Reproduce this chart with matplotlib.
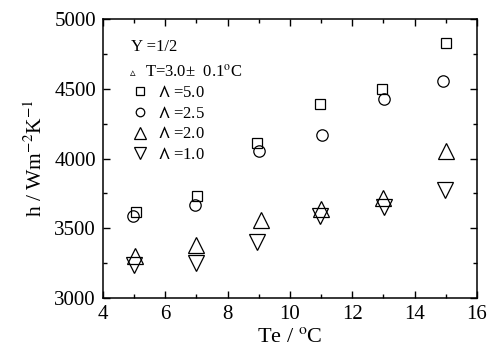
import matplotlib
matplotlib.use('Agg')
import matplotlib.pyplot as plt
from matplotlib.ticker import MultipleLocator

plt.rcParams['font.family'] = ['Liberation Serif', 'DejaVu Serif']
plt.rcParams['mathtext.fontset'] = 'stix'

# Data
te_sq = [5.07, 7.03, 8.93, 10.96, 12.94, 15.0]
h_sq = [3615, 3730, 4110, 4390, 4500, 4830]

te_ci = [4.97, 6.95, 9.01, 11.02, 13.03, 14.92]
h_ci = [3590, 3665, 4055, 4165, 4430, 4555]

te_up = [5.03, 6.97, 9.06, 10.98, 12.98, 15.0]
h_up = [3300, 3380, 3560, 3635, 3720, 4055]

te_dn = [5.0, 6.97, 8.93, 10.95, 13.03, 14.96]
h_dn = [3235, 3250, 3405, 3590, 3655, 3775]

labels = ['$\\mathsf{\\Lambda}$ =5.0', '$\\mathsf{\\Lambda}$ =2.5',
          '$\\mathsf{\\Lambda}$ =2.0', '$\\mathsf{\\Lambda}$ =1.0']

fig = plt.figure(figsize=(4.92, 3.54), dpi=100)
ax = fig.add_axes([0.2093, 0.1582, 0.7602, 0.7881])

mk = dict(linestyle='none', markerfacecolor='none', markeredgecolor='black',
          markeredgewidth=0.9)
ax.plot(te_sq, h_sq, marker='s', markersize=7.8, label=labels[0], **mk)
ax.plot(te_ci, h_ci, marker='o', markersize=8.2, label=labels[1], **mk)
ax.plot(te_up, h_up, marker='^', markersize=11, label=labels[2], **mk)
ax.plot(te_dn, h_dn, marker='v', markersize=11, label=labels[3], **mk)

ax.set_xlim(4, 16)
ax.set_ylim(3000, 5000)
ax.xaxis.set_major_locator(MultipleLocator(2))
ax.xaxis.set_minor_locator(MultipleLocator(1))
ax.yaxis.set_major_locator(MultipleLocator(500))
ax.yaxis.set_minor_locator(MultipleLocator(250))
ax.tick_params(which='both', direction='in', top=True, right=True, width=1.0)
ax.tick_params(which='major', length=5, labelsize=15, pad=5)
ax.tick_params(which='minor', length=3)
for s in ax.spines.values():
    s.set_linewidth(1.1)

ax.set_xlabel('Te / $^{\\rm o}$C', fontsize=16, labelpad=3)
ax.set_ylabel('h / Wm$^{-2}$K$^{-1}$', fontsize=15.5, labelpad=5)

ax.text(0.074, 0.898, 'Y =1/2', transform=ax.transAxes, fontsize=12,
        va='center', ha='left')
ax.text(0.081, 0.808, '\u25b5', transform=ax.transAxes, fontsize=8,
        va='center', ha='center', family='DejaVu Sans')
ax.text(0.113, 0.808, 'T=3.0\u00b1  0.1$^{\\rm o}$C', transform=ax.transAxes,
        fontsize=12, va='center', ha='left')

leg = ax.legend(loc='upper left', bbox_to_anchor=(0.04, 0.805), frameon=False,
                fontsize=12, markerscale=0.75, handlelength=1.2,
                handletextpad=0.5, labelspacing=0.28, borderpad=0.2)

fig.savefig('out.png', dpi=100)
